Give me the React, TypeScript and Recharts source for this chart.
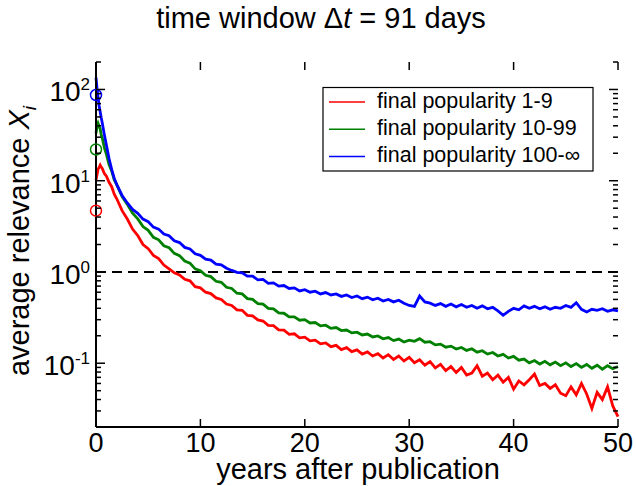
import { ComposedChart, Line, Scatter, XAxis, YAxis, ReferenceLine } from "recharts";

// years since publication (dense near the start, then every half year)
const years = [
  0, 0.1, 0.2, 0.3, 0.4, 0.5, 0.6, 0.8, 1, 1.25, 1.5, 1.75, 2,
  2.5, 3, 3.5, 4, 4.5, 5, 5.5, 6, 6.5, 7, 7.5, 8, 8.5, 9, 9.5, 10,
  10.5, 11, 11.5, 12, 12.5, 13, 13.5, 14, 14.5, 15, 15.5, 16, 16.5, 17, 17.5, 18, 18.5, 19, 19.5, 20,
  20.5, 21, 21.5, 22, 22.5, 23, 23.5, 24, 24.5, 25, 25.5, 26, 26.5, 27, 27.5, 28, 28.5, 29, 29.5, 30,
  30.5, 31, 31.5, 32, 32.5, 33, 33.5, 34, 34.5, 35, 35.5, 36, 36.5, 37, 37.5, 38, 38.5, 39, 39.5, 40,
  40.5, 41, 41.5, 42, 42.5, 43, 43.5, 44, 44.5, 45, 45.5, 46, 46.5, 47, 47.5, 48, 48.5, 49, 49.5, 50,
];

// average relevance, final popularity 1-9
const pop1to9 = [
  10.2, 11.6, 13.4, 14.0, 14.8, 14.1, 13.6, 12.0, 11.2, 9.6, 8.6, 7.1, 6.3,
  4.7, 3.8, 2.95, 2.5, 2.0, 1.8, 1.52, 1.4, 1.19, 1.08, 0.98, 0.93, 0.83, 0.8, 0.69, 0.67,
  0.6, 0.58, 0.52, 0.5, 0.445, 0.43, 0.385, 0.38, 0.335, 0.33, 0.298, 0.29, 0.26, 0.258, 0.232, 0.23, 0.207, 0.21, 0.19, 0.193,
  0.176, 0.179, 0.163, 0.167, 0.152, 0.157, 0.141, 0.148, 0.134, 0.14, 0.126, 0.133, 0.12, 0.127, 0.114, 0.124, 0.11, 0.12, 0.106, 0.116,
  0.101, 0.109, 0.095, 0.104, 0.089, 0.097, 0.083, 0.092, 0.079, 0.09, 0.074, 0.078, 0.094, 0.072, 0.078, 0.066, 0.074, 0.062, 0.07, 0.052,
  0.064, 0.058, 0.066, 0.076, 0.057, 0.06, 0.053, 0.058, 0.047, 0.044, 0.055, 0.045, 0.06, 0.046, 0.032, 0.048, 0.04, 0.055, 0.034, 0.026,
];

// average relevance, final popularity 10-99
const pop10to99 = [
  33, 39, 42.5, 39.5, 37, 32, 29.5, 23, 19.4, 15, 12.8, 10.2, 9.0,
  6.7, 5.5, 4.4, 3.82, 3.14, 2.86, 2.4, 2.25, 1.94, 1.84, 1.6, 1.51, 1.32, 1.25, 1.08, 1.03,
  0.92, 0.89, 0.79, 0.77, 0.68, 0.66, 0.585, 0.575, 0.51, 0.5, 0.45, 0.445, 0.4, 0.395, 0.356, 0.353, 0.322, 0.322, 0.296, 0.3,
  0.276, 0.279, 0.257, 0.261, 0.241, 0.246, 0.228, 0.231, 0.215, 0.219, 0.204, 0.209, 0.194, 0.199, 0.185, 0.191, 0.177, 0.184, 0.171, 0.179,
  0.174, 0.186, 0.17, 0.172, 0.159, 0.162, 0.15, 0.154, 0.143, 0.149, 0.138, 0.144, 0.132, 0.137, 0.126, 0.131, 0.12, 0.125, 0.114, 0.119,
  0.108, 0.111, 0.101, 0.107, 0.098, 0.105, 0.096, 0.103, 0.094, 0.101, 0.092, 0.099, 0.09, 0.097, 0.088, 0.095, 0.086, 0.094, 0.087, 0.092,
];

// average relevance, final popularity 100-inf
const pop100up = [
  135, 102, 82, 66, 57, 49, 43, 32, 24.5, 17.5, 13.3, 10.6, 9.0,
  6.9, 5.7, 4.85, 4.4, 3.8, 3.55, 3.1, 2.95, 2.6, 2.5, 2.2, 2.1, 1.86, 1.79, 1.58, 1.52,
  1.38, 1.35, 1.22, 1.2, 1.1, 1.04, 0.99, 0.98, 0.9, 0.9, 0.82, 0.83, 0.75, 0.76, 0.7, 0.71, 0.66, 0.67, 0.62, 0.64,
  0.6, 0.615, 0.575, 0.595, 0.56, 0.575, 0.54, 0.56, 0.525, 0.545, 0.51, 0.53, 0.495, 0.515, 0.48, 0.5, 0.47, 0.49, 0.455, 0.43,
  0.42, 0.545, 0.47, 0.455, 0.43, 0.45, 0.42, 0.445, 0.415, 0.44, 0.41, 0.43, 0.4, 0.425, 0.395, 0.41, 0.375, 0.335, 0.37, 0.4,
  0.385, 0.425, 0.4, 0.42, 0.395, 0.415, 0.39, 0.41, 0.4, 0.43, 0.41, 0.46, 0.39, 0.365, 0.39, 0.38, 0.395, 0.37, 0.385, 0.375,
];

// relevance at publication (open circles at year 0)
const startValues = [4.7, 22, 87];

const seriesKeys = ["low", "mid", "high"];
const seriesNames = ["final popularity 1-9", "final popularity 10-99", "final popularity 100-\u221e"];
const seriesColors = ["#ff0000", "#008000", "#0000ff"];

const xTicks = [0, 10, 20, 30, 40, 50];
const yTicks = [
  0.02, 0.03, 0.04, 0.05, 0.06, 0.07, 0.08, 0.09,
  0.1, 0.2, 0.3, 0.4, 0.5, 0.6, 0.7, 0.8, 0.9,
  1, 2, 3, 4, 5, 6, 7, 8, 9,
  10, 20, 30, 40, 50, 60, 70, 80, 90,
  100, 200,
];
const yMajor = [0.1, 1, 10, 100];

const X_MIN = 0;
const X_MAX = 50;
const Y_MIN = 0.02;
const Y_MAX = 200;

const rows = years.map((year, i) => ({
  year,
  low: pop1to9[i],
  mid: pop10to99[i],
  high: pop100up[i],
}));

const FONT = '"Liberation Sans", Arial, Helvetica, sans-serif';

// plot box (chart margins + axis sizes)
const W = 636;
const H = 486;
const LEFT = 96;
const RIGHT = 18;
const TOP = 62;
const BOTTOM = 59;
const PLOT_W = W - LEFT - RIGHT;
const PLOT_H = H - TOP - BOTTOM;

// frame tick positions, same mapping as the chart axes
const tickX = (t: number) => LEFT + ((t - X_MIN) / (X_MAX - X_MIN)) * PLOT_W;
const tickY = (v: number) => TOP + (Math.log10(Y_MAX / v) / Math.log10(Y_MAX / Y_MIN)) * PLOT_H;

const leftTick = (props: any) => {
  const { x, y, payload } = props;
  if (!yMajor.includes(payload.value)) return <g />;
  return (
    <text x={x - 6} y={y + 12} textAnchor="end" fontSize={28} fontFamily={FONT} fill="#000">
      10
      <tspan dy={-11} fontSize={17}>
        {Math.round(Math.log10(payload.value))}
      </tspan>
    </text>
  );
};

const bottomTick = (props: any) => {
  const { x, y, payload } = props;
  return (
    <text x={x} y={y + 25} textAnchor="middle" fontSize={27} fontFamily={FONT} fill="#000">
      {payload.value}
    </text>
  );
};

const ring = (color: string) => (props: any) =>
  <circle cx={props.cx} cy={props.cy} r={5.5} fill="none" stroke={color} strokeWidth={1.5} />;

function FrameTicks() {
  return (
    <g stroke="#000" strokeWidth={1.5}>
      {yTicks.map((v) => {
        const len = yMajor.includes(v) ? 9 : 5;
        const y = tickY(v);
        return (
          <g key={"y" + v}>
            <line x1={LEFT} x2={LEFT + len} y1={y} y2={y} />
            <line x1={W - RIGHT - len} x2={W - RIGHT} y1={y} y2={y} />
          </g>
        );
      })}
      {xTicks.map((t) => {
        const x = tickX(t);
        return (
          <g key={"x" + t}>
            <line x1={x} x2={x} y1={H - BOTTOM} y2={H - BOTTOM - 8} />
            <line x1={x} x2={x} y1={TOP} y2={TOP + 8} />
          </g>
        );
      })}
    </g>
  );
}

export default function App() {
  return (
    <div style={{ position: "absolute", left: 0, top: 0, width: W, height: H, background: "#fff", fontFamily: FONT }}>
      <ComposedChart width={W} height={H} data={rows} margin={{ top: TOP, right: RIGHT, bottom: 0, left: 0 }}>
        <XAxis
          dataKey="year"
          type="number"
          domain={[X_MIN, X_MAX]}
          ticks={xTicks}
          interval={0}
          height={BOTTOM}
          tickSize={0}
          tickMargin={0}
          tick={bottomTick}
          tickLine={false}
          axisLine={{ stroke: "#000", strokeWidth: 2 }}
        />
        <XAxis
          xAxisId="top"
          orientation="top"
          dataKey="year"
          type="number"
          domain={[X_MIN, X_MAX]}
          height={0}
          tick={false}
          tickLine={false}
          axisLine={{ stroke: "#000", strokeWidth: 2 }}
        />
        <YAxis
          type="number"
          scale="log"
          domain={[Y_MIN, Y_MAX]}
          ticks={yTicks}
          interval={0}
          width={LEFT}
          tickSize={0}
          tickMargin={0}
          tick={leftTick}
          tickLine={false}
          axisLine={{ stroke: "#000", strokeWidth: 2 }}
        />
        <YAxis
          yAxisId="right"
          orientation="right"
          type="number"
          scale="log"
          domain={[Y_MIN, Y_MAX]}
          width={0}
          tick={false}
          tickLine={false}
          axisLine={{ stroke: "#000", strokeWidth: 2 }}
        />
        <ReferenceLine y={1} stroke="#000" strokeWidth={2} strokeDasharray="10 6" />
        {seriesKeys.map((key, i) => (
          <Line
            key={key}
            dataKey={key}
            type="linear"
            stroke={seriesColors[i]}
            strokeWidth={2.8}
            dot={false}
            activeDot={false}
            isAnimationActive={false}
          />
        ))}
        {startValues.map((v, i) => (
          <Scatter
            key={seriesKeys[i]}
            data={[{ year: 0, value: v }]}
            dataKey="value"
            shape={ring(seriesColors[i])}
            isAnimationActive={false}
          />
        ))}
      </ComposedChart>

      <svg width={W} height={H} style={{ position: "absolute", left: 0, top: 0, pointerEvents: "none" }} fontFamily={FONT}>
        <FrameTicks />
        <text x={321} y={28} textAnchor="middle" fontSize={29} fill="#000">
          time window {"\u0394"}
          <tspan fontStyle="italic">t</tspan>
          {" = 91 days"}
        </text>
        <text x={358} y={479} textAnchor="middle" fontSize={29} fill="#000">
          years after publication
        </text>
        <text transform="translate(29,241) rotate(-90)" textAnchor="middle" fontSize={29} fill="#000">
          average relevance <tspan fontStyle="italic">X</tspan>
          <tspan fontStyle="italic" fontSize={19} dy={7}>i</tspan>
        </text>

        <rect x={323} y={87.5} width={270} height={83.5} fill="#fff" stroke="#000" strokeWidth={1.2} />
        {seriesNames.map((name, i) => (
          <g key={name}>
            <line x1={329} x2={365} y1={102 + i * 27.2} y2={102 + i * 27.2} stroke={seriesColors[i]} strokeWidth={1.5} />
            <text x={377} y={107.5 + i * 27.2} fontSize={21.5} fill="#000">
              {name}
            </text>
          </g>
        ))}
      </svg>
    </div>
  );
}
